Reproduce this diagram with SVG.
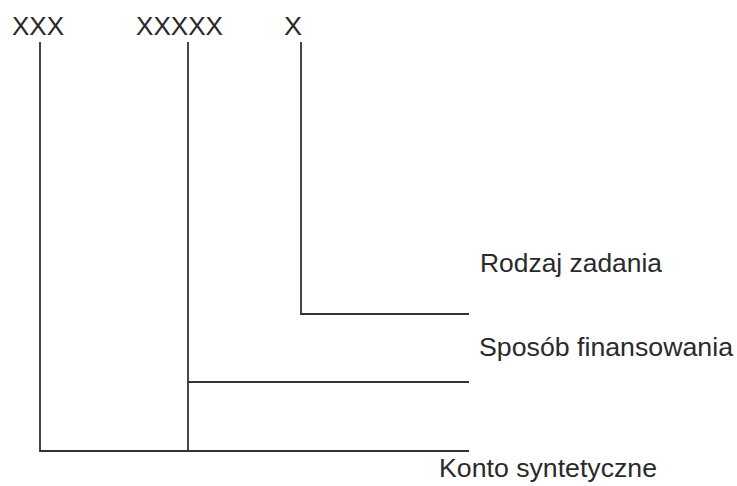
<svg xmlns="http://www.w3.org/2000/svg" width="737" height="486" viewBox="0 0 737 486">
<style>
text{font-family:"Liberation Sans",Arial,sans-serif;font-size:25px;fill:#2a2a2a}
.c{fill:none;stroke:#333;stroke-width:1.8}
</style>
<rect width="737" height="486" fill="#fff"/>
<g id="seg-xxx"><text x="12" y="35" textLength="52" lengthAdjust="spacingAndGlyphs">XXX</text></g>
<g id="seg-xxxxx"><text x="136" y="35" textLength="87" lengthAdjust="spacingAndGlyphs">XXXXX</text></g>
<g id="seg-x"><text x="284" y="35" textLength="18" lengthAdjust="spacingAndGlyphs">X</text></g>
<g id="label-rodzaj"><text x="480" y="272" textLength="182" lengthAdjust="spacingAndGlyphs">Rodzaj zadania</text></g>
<g id="label-sposob"><text x="479" y="356" textLength="254" lengthAdjust="spacingAndGlyphs">Sposób finansowania</text></g>
<g id="label-konto"><text x="439" y="477" textLength="218" lengthAdjust="spacingAndGlyphs">Konto syntetyczne</text></g>
<g id="connectors">
<path class="c" d="M40,42 V451 H469"/>
<path class="c" d="M188,42 V451"/>
<path class="c" d="M188,382 H469"/>
<path class="c" d="M301,42 V314 H469"/>
</g>
</svg>
